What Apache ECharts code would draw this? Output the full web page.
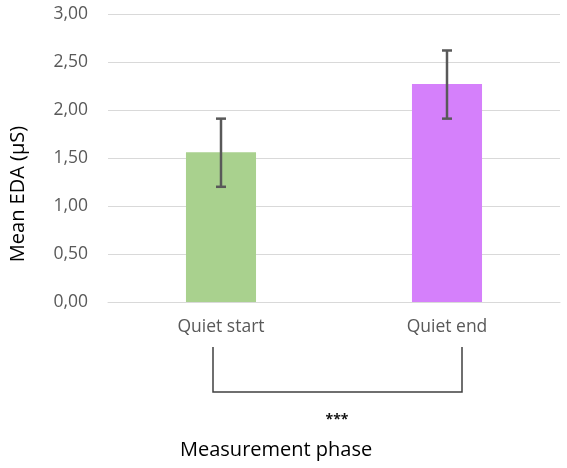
<!DOCTYPE html>
<html>
<head>
<meta charset="utf-8">
<script src="https://cdn.jsdelivr.net/npm/echarts@6/dist/echarts.min.js"></script>
<style>
  html, body { margin: 0; padding: 0; background: #fff; }
  #chart { width: 567px; height: 468px; }
</style>
</head>
<body>
<div id="chart"></div>
<script>
// data
const categories = ['Quiet start', 'Quiet end']
const means = [1.56, 2.27]
const errLow = [1.20, 1.91]
const errHigh = [1.91, 2.62]
const barColors = ['#a9d18e', '#d580fb']

const chart = echarts.init(document.getElementById('chart'))

const fmt = v => v.toFixed(2).replace('.', ',')

const option = {
  animation: false,
  grid: { left: 108, right: 7, top: 14, bottom: 166 },
  xAxis: {
    type: 'category',
    data: categories,
    axisLine: { lineStyle: { color: '#d9d9d9', width: 1 } },
    axisTick: { show: false },
    axisLabel: { color: '#595959', fontSize: 17.5, fontFamily: 'Open Sans', margin: 16 }
  },
  yAxis: {
    type: 'value',
    min: 0,
    max: 3,
    interval: 0.5,
    axisLine: { show: false },
    axisTick: { show: false },
    splitLine: { lineStyle: { color: '#d9d9d9', width: 1 } },
    axisLabel: { color: '#595959', fontSize: 17.5, fontFamily: 'Open Sans', margin: 20, formatter: fmt }
  },
  series: [
    {
      type: 'bar',
      barWidth: '31%',
      data: means.map((v, i) => ({ value: v, itemStyle: { color: barColors[i] } }))
    },
    {
      type: 'custom',
      data: categories.map((c, i) => [i, errLow[i], errHigh[i]]),
      renderItem: (params, api) => {
        const lo = api.coord([api.value(0), api.value(1)])
        const hi = api.coord([api.value(0), api.value(2)])
        const hw = 5
        const style = { stroke: '#595959', lineWidth: 2.5 }
        return {
          type: 'group',
          children: [
            { type: 'line', shape: { x1: lo[0], y1: lo[1], x2: hi[0], y2: hi[1] }, style },
            { type: 'line', shape: { x1: lo[0] - hw, y1: lo[1], x2: lo[0] + hw, y2: lo[1] }, style },
            { type: 'line', shape: { x1: hi[0] - hw, y1: hi[1], x2: hi[0] + hw, y2: hi[1] }, style }
          ]
        }
      },
      z: 5
    }
  ],
  graphic: [
    {
      type: 'text',
      x: 18,
      y: 194,
      rotation: Math.PI / 2,
      style: {
        text: 'Mean EDA (µS)', fill: '#000', fontSize: 20, fontFamily: 'Open Sans',
        align: 'center', verticalAlign: 'middle'
      }
    },
    {
      type: 'polyline',
      shape: { points: [[213, 347], [213, 392], [462, 392], [462, 347]] },
      style: { stroke: '#404040', lineWidth: 1.5, fill: null }
    },
    {
      type: 'text',
      x: 337,
      y: 420,
      style: {
        text: '***', fill: '#111', fontSize: 14, fontFamily: 'Open Sans', fontWeight: 'bold',
        align: 'center', verticalAlign: 'middle'
      }
    },
    {
      type: 'text',
      x: 180,
      y: 450,
      style: {
        text: 'Measurement phase', fill: '#000', fontSize: 20, fontFamily: 'Open Sans',
        align: 'left', verticalAlign: 'middle'
      }
    }
  ]
}

chart.setOption(option)
</script>
</body>
</html>
